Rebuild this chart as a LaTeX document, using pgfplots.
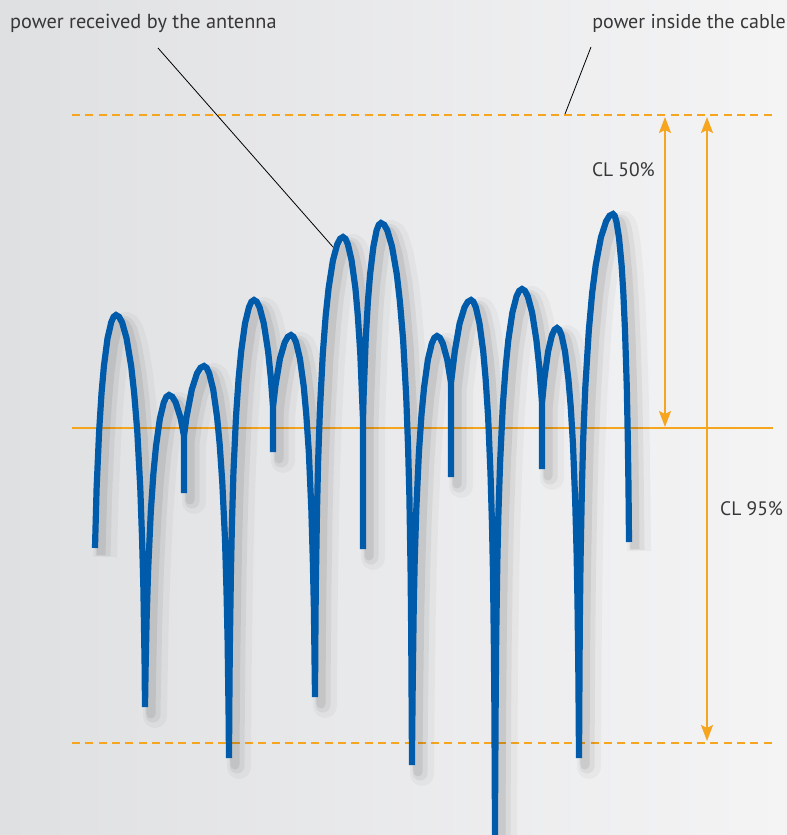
\documentclass[border=0pt]{standalone}
\usepackage{pgfplots}
\pgfplotsset{compat=1.18}
\usepackage{pgfplotstable}
\usepackage{fontspec}
\setmainfont{PT Sans}
\usetikzlibrary{arrows.meta}

\definecolor{curveblue}{RGB}{0,91,171}
\definecolor{clorange}{RGB}{246,165,30}
\definecolor{bgleft}{RGB}{223,224,226}
\definecolor{bgright}{RGB}{244,244,245}
\definecolor{txt}{RGB}{55,55,55}

% received power (x and y in pixels, y downwards)
\pgfplotstableread{
x y
95 548
95.2 539.9
96.6 488.4
99.1 431.6
101.5 393.5
103.9 366.2
107.5 338.5
111.2 322.4
113.6 316.8
116 315
119 316.8
122.1 322.4
126.6 338.5
131.2 366.2
134.2 393.5
137.3 431.6
140.3 488.4
142.1 539.9
143.4 588.9
144.6 664
145 707
145.6 668.9
146.6 619.9
148.2 568.4
150.8 511.6
153.4 473.5
156 446.2
159.9 418.5
163.8 402.4
166.4 396.8
169 395
172.3 396.8
175.7 402.4
180.7 418.5
184 436
184 493
184 436
186.5 417.2
191.8 389.5
197 373.4
200.5 367.8
204 366
206.6 367.8
209.2 373.4
213.2 389.5
217.1 417.2
219.7 444.5
222.3 482.6
225 539.4
226.5 590.9
227.6 639.9
228.6 715
229 758
229.3 708.7
229.8 649
230.9 573.9
231.9 524.9
233.4 473.4
236 416.6
238.6 378.5
241.2 351.2
245 323.5
248.9 307.4
251.4 301.8
254 300
256.8 301.8
259.6 307.4
263.8 323.5
268.1 351.2
270.9 378.5
273 407
273 452
273 407
275.4 386.2
280 358.5
284.7 342.4
287.9 336.8
291 335
293.5 336.8
296.1 342.4
299.9 358.5
303.7 386.2
306.2 413.5
308.8 451.6
311.3 508.4
312.8 559.9
313.9 608.9
315 697
315.3 645.7
315.8 586
317 510.9
318.1 461.9
319.9 410.4
322.8 353.6
325.7 315.5
328.6 288.2
332.9 260.5
337.2 244.4
340.1 238.8
343 237
345.5 238.8
347.9 244.4
351.6 260.5
355.4 288.2
357.8 315.5
360.3 353.6
363 420
363 549
363 420
363.6 396.4
365.7 339.6
367.9 301.5
370.1 274.2
373.4 246.5
376.6 230.4
378.8 224.8
381 223
384.2 224.8
387.3 230.4
392 246.5
396.8 274.2
399.9 301.5
403.1 339.6
406.2 396.4
408.1 447.9
409.4 496.9
410.6 572
411.2 631.7
412 765
412.1 744.7
412.7 685
413.7 609.9
414.7 560.9
416.3 509.4
418.9 452.6
421.5 414.5
424.1 387.2
427.9 359.5
431.8 343.4
434.4 337.8
437 336
439.9 337.8
442.8 343.4
447.2 359.5
451 383
451 477
451 383
454.8 351.2
459.6 323.5
464.5 307.4
467.8 301.8
471 300
473.4 301.8
475.9 307.4
479.5 323.5
483.2 351.2
485.6 378.5
488.1 416.6
490.5 473.4
492 524.9
493 573.9
493.9 649
494.4 708.7
494.9 811
495 845
495.1 800
495.7 697.7
496.2 638
497.3 562.9
498.4 513.9
500.1 462.4
502.8 405.6
505.6 367.5
508.3 340.2
512.4 312.5
516.5 296.4
519.3 290.8
522 289
524.9 290.8
527.8 296.4
532.1 312.5
536.4 340.2
539.3 367.5
542 403
542 469
542 403
544.3 379.2
548.1 351.5
551.9 335.4
554.5 329.8
557 328
559.3 329.8
561.6 335.4
565 351.5
568.4 379.2
570.7 406.5
573 444.6
575.2 501.4
576.6 552.9
577.5 601.9
578.4 677
579 758
579.8 622.7
580.5 563
581.9 487.9
583.2 438.9
585.3 387.4
588.8 330.6
592.2 292.5
595.7 265.2
600.9 237.5
606.1 221.4
609.5 215.8
613 214
614.7 215.8
616.4 221.4
619 237.5
621.6 265.2
623.3 292.5
625 330.6
626.8 387.4
627.8 438.9
628.5 487.9
629 542
}\received

% reference levels (y in pixels)
\pgfplotstableread{
x y
72 115
775 115
}\cabletop
\pgfplotstableread{
x y
72 743
775 743
}\cablebottom
\pgfplotstableread{
x y
72 428
773 428
}\cablemid

\begin{document}
\begin{tikzpicture}
\begin{axis}[
  scale only axis,
  width=787bp, height=835bp,
  xmin=0, xmax=787,
  ymin=0, ymax=835,
  y dir=reverse,
  hide axis,
]
\shade[left color=bgleft, right color=bgright] (axis cs:0,0) rectangle (axis cs:787,835);

\addplot[clorange, line width=2.5bp, dash pattern=on 8bp off 5.3bp] table {\cabletop};
\addplot[clorange, line width=2.5bp, dash pattern=on 8bp off 5.3bp] table {\cablebottom};
\addplot[clorange, line width=2.3bp] table {\cablemid};

% soft shadow, mostly to the right
\addplot[black, opacity=0.03, line width=24bp, line join=round] table[x expr=\thisrow{x}+10, y expr=\thisrow{y}+9] {\received};
\addplot[black, opacity=0.05, line width=15bp, line join=round] table[x expr=\thisrow{x}+8, y expr=\thisrow{y}+8] {\received};
\addplot[black, opacity=0.07, line width=9bp, line join=round] table[x expr=\thisrow{x}+6, y expr=\thisrow{y}+7] {\received};

\addplot[curveblue, line width=6.2bp] table {\received};

% confidence arrows
\draw[clorange, line width=2bp, {Stealth[length=16bp,width=12bp,inset=3bp]}-{Stealth[length=16bp,width=12bp,inset=3bp]}]
  (axis cs:665,117) -- (axis cs:665,427);
\draw[clorange, line width=2bp, {Stealth[length=16bp,width=12bp,inset=3bp]}-{Stealth[length=16bp,width=12bp,inset=3bp]}]
  (axis cs:707,117) -- (axis cs:707,741);

% leaders
\draw[black, line width=0.8bp] (axis cs:158,48) -- (axis cs:333,247);
\draw[black, line width=0.8bp] (axis cs:591,47) -- (axis cs:565,114);

\node[anchor=base west, inner sep=0pt, text=txt, font=\fontsize{20.3bp}{24bp}\selectfont] at (axis cs:10,29) {power received by the antenna};
\node[anchor=base east, inner sep=0pt, text=txt, font=\fontsize{20bp}{24bp}\selectfont] at (axis cs:786,29) {power inside the cable};
\node[anchor=base east, inner sep=0pt, text=txt, font=\fontsize{19.5bp}{24bp}\selectfont] at (axis cs:655,177) {CL 50\%};
\node[anchor=base west, inner sep=0pt, text=txt, font=\fontsize{19.5bp}{24bp}\selectfont] at (axis cs:720,515) {CL 95\%};
\end{axis}
\end{tikzpicture}
\end{document}
